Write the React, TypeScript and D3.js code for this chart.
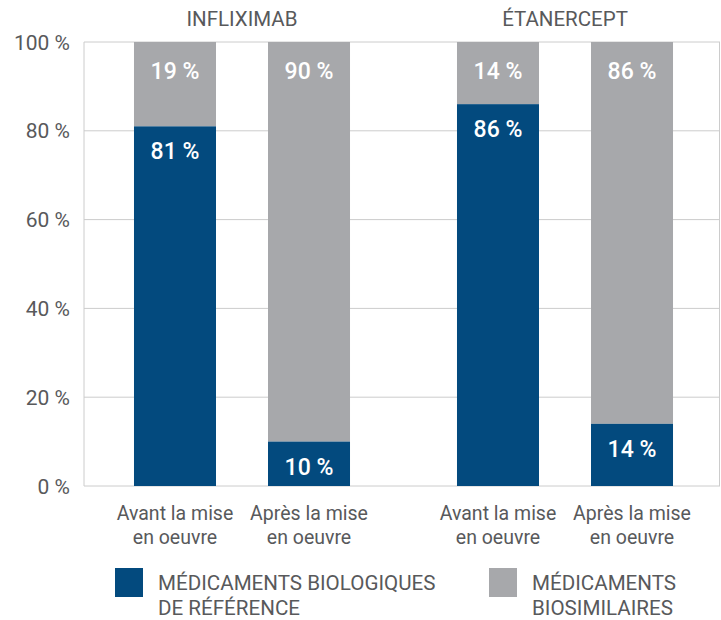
import React from "react";
import * as d3 from "d3";

const groups = ["INFLIXIMAB", "ÉTANERCEPT"];
const phases = ["avant", "apres"];
const phaseLabels = [["Avant la mise", "en oeuvre"], ["Après la mise", "en oeuvre"]];
// reference biologics share (%) per group, per phase
const referenceValues = [[81, 10], [86, 14]];
// biosimilar share (%)
const biosimilarValues = [[19, 90], [14, 86]];
const yTicks = [0, 20, 40, 60, 80, 100];
const legendItems = [
  { key: "ref", lines: ["MÉDICAMENTS BIOLOGIQUES", "DE RÉFÉRENCE"] },
  { key: "bio", lines: ["MÉDICAMENTS", "BIOSIMILAIRES"] },
];

const W = 721;
const H = 620;
const BLUE = "#034a7e";
const GREY = "#a7a8ab";
const TEXT = "#58595b";
const GRID = "#cccccc";
const FONT = "Roboto, 'Noto Sans', sans-serif";

export default function App() {
  const left = 84, right = 720, top = 42, bottom = 486;
  const x0 = d3.scaleBand<string>().domain(groups).range([left, 730]);
  const innerW = 316;
  const x1 = d3.scaleBand<string>().domain(phases).range([0, innerW]).paddingInner(0.388).paddingOuter(0.373);
  const y = d3.scaleLinear().domain([0, 100]).range([bottom, top]);
  const bw = x1.bandwidth();

  const bars: any[] = [];
  groups.forEach((g, gi) => {
    phases.forEach((p, pi) => {
      const xs = (x0(g) as number) + (x1(p) as number);
      const r = referenceValues[gi][pi];
      const b = biosimilarValues[gi][pi];
      bars.push({ g, p, gi, pi, xs, r, b });
    });
  });

  return (
    <div style={{ position: "fixed", left: 0, top: 0 }}>
      <svg width={W} height={H} style={{ display: "block", background: "#fff" }} fontFamily={FONT}>
        {/* gridlines */}
        {yTicks.map((t) => (
          <line key={t} x1={left} x2={right} y1={y(t)} y2={y(t)} stroke={GRID} strokeWidth={1} />
        ))}
        <line x1={left} x2={left} y1={top} y2={bottom} stroke={GRID} strokeWidth={1} />
        <line x1={right - 0.5} x2={right - 0.5} y1={top} y2={bottom} stroke={GRID} strokeWidth={1} />
        {/* y labels */}
        {yTicks.map((t) => (
          <text key={t} x={70} y={y(t)} dy="0.36em" textAnchor="end" fontSize={21} fill={TEXT}>
            {t} %
          </text>
        ))}
        {/* group titles */}
        {groups.map((g) => (
          <text key={g} x={(x0(g) as number) + innerW / 2} y={26} textAnchor="middle" fontSize={20.5} fill={TEXT}>
            {g}
          </text>
        ))}
        {/* bars */}
        {bars.map((d) => (
          <g key={d.g + d.p}>
            <rect x={d.xs} width={bw} y={y(d.r + d.b)} height={y(d.r) - y(d.r + d.b)} fill={GREY} />
            <rect x={d.xs} width={bw} y={y(d.r)} height={y(0) - y(d.r)} fill={BLUE} />
            <text x={d.xs + bw / 2} y={y(d.r + d.b) + 37} textAnchor="middle" fontSize={23} fontWeight={500} fill="#fff">
              {d.b} %
            </text>
            <text x={d.xs + bw / 2} y={y(d.r) + 33} textAnchor="middle" fontSize={23} fontWeight={500} fill="#fff">
              {d.r} %
            </text>
            {phaseLabels[d.pi].map((l, li) => (
              <text key={li} x={d.xs + bw / 2} y={520 + li * 24} textAnchor="middle" fontSize={19.5} fill={TEXT}>
                {l}
              </text>
            ))}
          </g>
        ))}
        {/* legend */}
        {legendItems.map((it, i) => {
          const lx = i === 0 ? 115 : 489;
          return (
            <g key={it.key}>
              <rect x={lx} y={568} width={28} height={29} fill={i === 0 ? BLUE : GREY} />
              {it.lines.map((l, li) => (
                <text key={li} x={lx + 43} y={590 + li * 25} fontSize={20.6} fill={TEXT}>
                  {l}
                </text>
              ))}
            </g>
          );
        })}
      </svg>
    </div>
  );
}
